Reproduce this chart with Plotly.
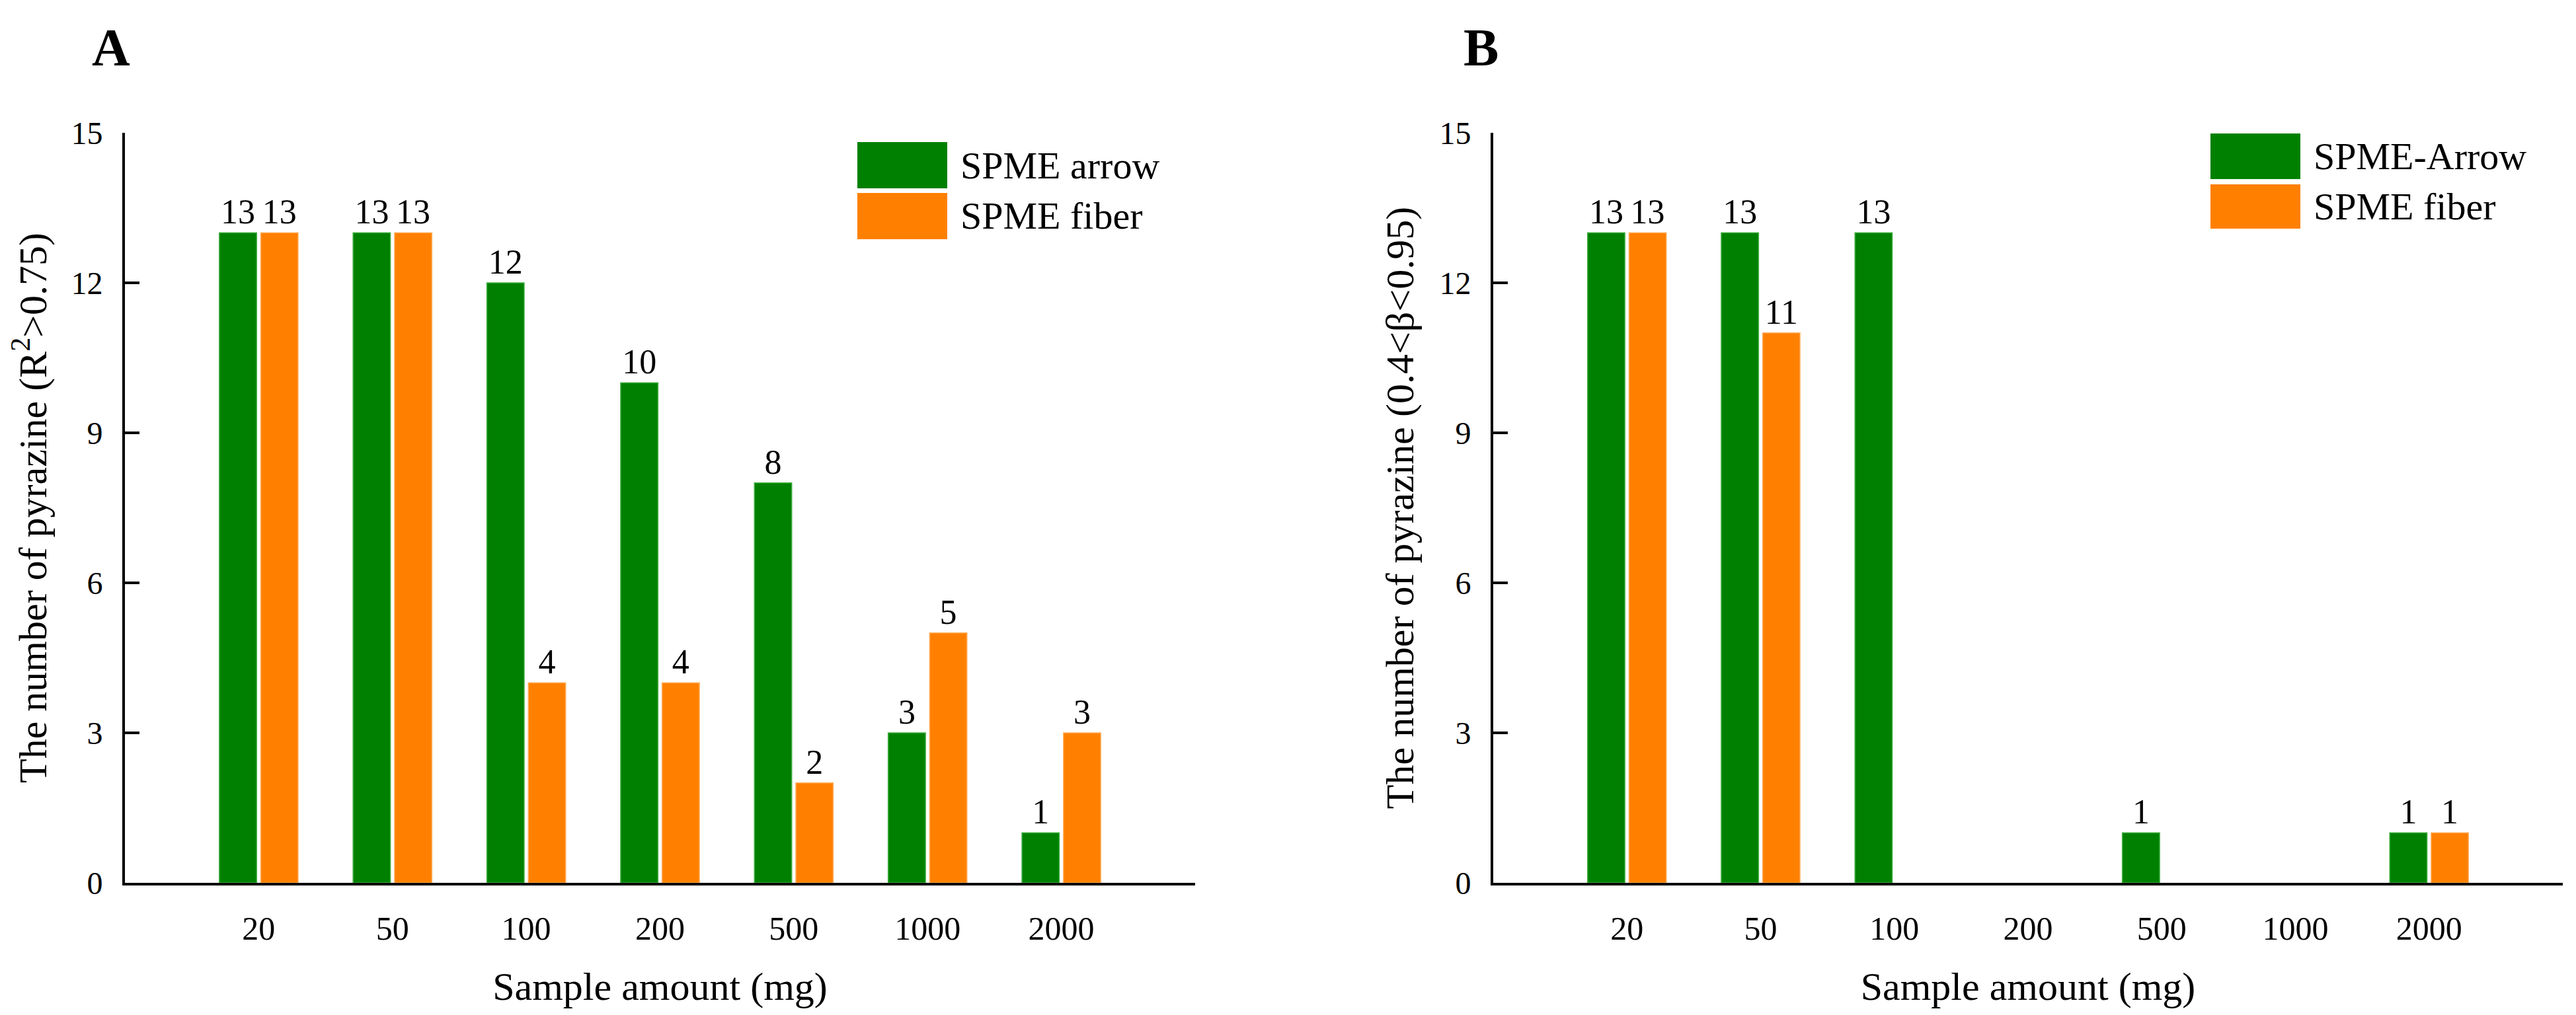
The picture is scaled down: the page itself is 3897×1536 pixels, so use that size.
import plotly.graph_objects as go

W, H = 3897, 1536

categories = ["20", "50", "100", "200", "500", "1000", "2000"]
a_arrow = [13, 13, 12, 10, 8, 3, 1]
a_fiber = [13, 13, 4, 4, 2, 5, 3]
b_arrow = [13, 13, 13, 0, 1, 0, 1]
b_fiber = [13, 11, 0, 0, 0, 0, 1]
y_ticks = [0, 3, 6, 9, 12, 15]

GREEN = "#008000"
ORANGE = "#FF8000"
FONT = "Times New Roman, Liberation Serif, serif"


def fx(px):
    return px / W


def fy(py):
    return 1 - py / H


xpos = list(range(1, len(categories) + 1))


def nz(vals):
    # zero counts draw no bar and no label
    return [v if v > 0 else None for v in vals]


fig = go.Figure()
for vals_g, vals_o, xa, ya in [(a_arrow, a_fiber, "x", "y"), (b_arrow, b_fiber, "x2", "y2")]:
    for vals, col, edge in [(vals_g, GREEN, "#45b045"), (vals_o, ORANGE, "#ffb060")]:
        fig.add_trace(go.Bar(x=xpos, y=nz(vals), texttemplate="%{y}", textposition="outside",
                             marker=dict(color=col, line=dict(color=edge, width=1.5)),
                             textfont=dict(family=FONT, size=52, color="black"),
                             cliponaxis=False, xaxis=xa, yaxis=ya, showlegend=False))

ydom = [fy(1328), fy(193)]
xcommon = dict(range=[0, 8], tickmode="array", tickvals=xpos, ticktext=categories,
               showline=True, linecolor="black", linewidth=4, ticks="", showgrid=False,
               zeroline=False, tickfont=dict(family=FONT, size=50, color="black"),
               ticklabelstandoff=22,
               title=dict(text="Sample amount (mg)", font=dict(family=FONT, size=60, color="black"),
                          standoff=40),
               automargin=False)
ycommon = dict(range=[0, 15], tickmode="array", tickvals=y_ticks,
               showline=True, linecolor="black", linewidth=4, ticks="inside", ticklen=22,
               tickwidth=4, tickcolor="black", showgrid=False, zeroline=False,
               tickfont=dict(family=FONT, size=48, color="black"), ticklabelstandoff=20,
               automargin=False, domain=ydom)

fig.update_layout(
    width=W, height=H,
    margin=dict(l=0, r=0, t=0, b=0),
    plot_bgcolor="white", paper_bgcolor="white",
    font=dict(family=FONT, color="black"),
    barmode="group", bargap=0.38, bargroupgap=0.1,
    showlegend=False,
    xaxis=dict(domain=[fx(181), fx(1800)], anchor="y", **xcommon),
    yaxis=dict(anchor="x",
               title=dict(text="The number of pyrazine (R<sup>2</sup>&gt;0.75)",
                          font=dict(family=FONT, size=60, color="black"), standoff=20),
               **ycommon),
    xaxis2=dict(domain=[fx(2251), fx(3869)], anchor="y2", **xcommon),
    yaxis2=dict(anchor="x2",
                title=dict(text="The number of pyrazine (0.4&lt;β&lt;0.95)",
                           font=dict(family=FONT, size=60, color="black"), standoff=20),
                **ycommon),
)

shapes = []
annotations = []
# panel letters
for letter, px in [("A", 160), ("B", 2232)]:
    annotations.append(dict(text="<b>%s</b>" % letter, x=fx(px), y=fy(64), xref="paper", yref="paper",
                            xanchor="center", yanchor="middle", showarrow=False,
                            font=dict(family=FONT, size=80, color="black")))

# legends (swatches + labels)
legends = [
    (1289, 1425, [(207, 277, GREEN, "SPME arrow"), (284, 354, ORANGE, "SPME fiber")]),
    (3336, 3472, [(194, 263, GREEN, "SPME-Arrow"), (271, 338, ORANGE, "SPME fiber")]),
]
for x0, x1, items in legends:
    for y0, y1, col, name in items:
        shapes.append(dict(type="rect", xref="paper", yref="paper", x0=fx(x0), x1=fx(x1),
                           y0=fy(y1), y1=fy(y0), fillcolor=col, line=dict(width=0)))
        annotations.append(dict(text=name, x=fx(x1 + 18), y=fy((y0 + y1) / 2), xref="paper", yref="paper",
                                xanchor="left", yanchor="middle", showarrow=False,
                                font=dict(family=FONT, size=58, color="black")))

fig.update_layout(shapes=shapes, annotations=annotations)
fig.write_html("out.html")
